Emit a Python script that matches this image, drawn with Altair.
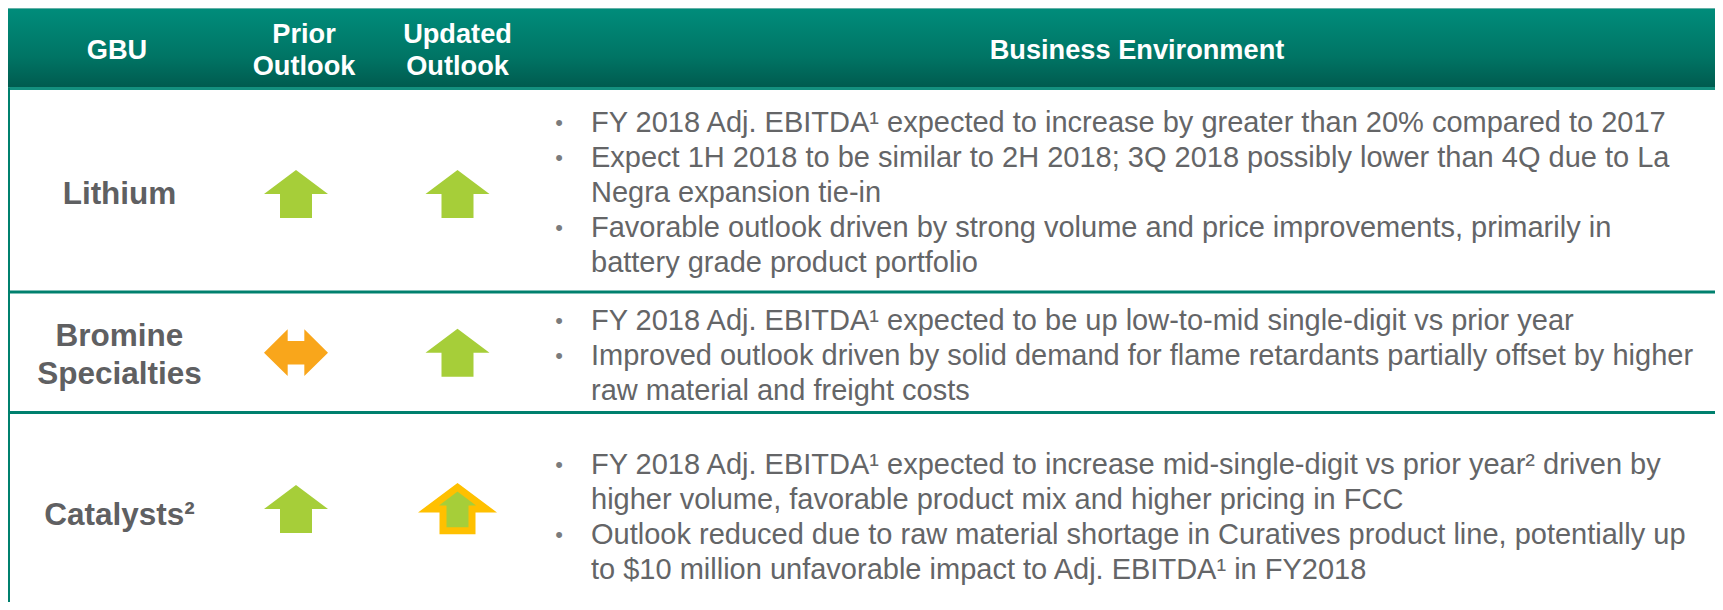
import altair as alt
import pandas as pd

# ---------------- data ----------------
HEADERS = ["GBU", "Prior\nOutlook", "Updated\nOutlook", "Business Environment"]
GBU = ["Lithium", "Bromine\nSpecialties", "Catalysts²"]
PRIOR_OUTLOOK = ["up", "flat", "up"]
UPDATED_OUTLOOK = ["up", "up", "up_reduced"]
BULLETS = [
    [
        ["FY 2018 Adj. EBITDA¹  expected to increase by greater than 20% compared to 2017"],
        ["Expect 1H 2018 to be similar to 2H 2018; 3Q 2018 possibly lower than 4Q due to La",
         "Negra expansion tie-in"],
        ["Favorable outlook driven by strong volume and price improvements, primarily in",
         "battery grade product portfolio"],
    ],
    [
        ["FY 2018 Adj. EBITDA¹ expected to be up low-to-mid single-digit vs prior year"],
        ["Improved outlook driven by solid demand for flame retardants partially offset by higher",
         "raw material and freight costs"],
    ],
    [
        ["FY 2018 Adj. EBITDA¹ expected to increase mid-single-digit vs prior year² driven by",
         "higher volume, favorable product mix and higher pricing in FCC"],
        ["Outlook reduced due to raw material shortage in Curatives product line, potentially up",
         "to $10 million unfavorable impact to Adj. EBITDA¹ in FY2018"],
    ],
]

# ---------------- layout / style ----------------
FONT = "Liberation Sans"
W, H = 1707, 594
OX, OY = 8, 8
X_LEFT, X_RIGHT = 7, 1723
HEAD_TOP, HEAD_BOTTOM = 8, 88
ROW_LINES = [292, 412.5]
ROW_MID = [194, 352.7, 509]
LABEL_MID = [195, 356, 516]
TEXT_MID = [193, 356, 517]
COL_X = [117, 304, 457.5, 1137]
LABEL_X = 119.5
ARROW_X = [296, 457.5]
HEAD_MID = 51
HEAD_LH = 32
LABEL_LH = 38.6
BULLET_X, TEXT_X = 559, 591
LINE_H = 35
BODY_SIZE = 29
HEAD_SIZE = 27.2
LABEL_SIZE = 31.5

TEAL = "#00806E"
GREEN = "#A6CE39"
ORANGE = "#F9A61B"
GOLD = "#FFC000"
TEXT_GRAY = "#646567"
LABEL_GRAY = "#5F6062"

UP_PATH = "M 0 -0.75 L 1 0 L 0.5 0 L 0.5 0.75 L -0.5 0.75 L -0.5 0 L -1 0 Z"
FLAT_PATH = ("M -1 0 L -0.26 -0.73 L -0.26 -0.365 L 0.26 -0.365 L 0.26 -0.73 L 1 0 "
             "L 0.26 0.73 L 0.26 0.365 L -0.26 0.365 L -0.26 0.73 Z")

xs = alt.Scale(domain=[OX, OX + W], zero=False, nice=False)
ys = alt.Scale(domain=[OY, OY + H], zero=False, nice=False, reverse=True)


def X(f):
    return alt.X(f, type="quantitative", scale=xs, axis=None)


def Y(f):
    return alt.Y(f, type="quantitative", scale=ys, axis=None)


def first_line_y(mid, text, lh):
    n = text.count("\n") + 1
    return mid - (n - 1) * lh / 2


# ---------------- table frame ----------------
frame_df = pd.DataFrame({"x": [X_LEFT], "x2": [X_RIGHT], "y": [HEAD_TOP], "y2": [HEAD_BOTTOM]})
header_bg = alt.Chart(frame_df).mark_rect(
    color=alt.Gradient(
        gradient="linear",
        stops=[alt.GradientStop(color="#008D7B", offset=0),
               alt.GradientStop(color="#007565", offset=0.6),
               alt.GradientStop(color="#005A4E", offset=1)],
        x1=0, x2=0, y1=0, y2=1),
).encode(x=X("x"), x2="x2", y=Y("y"), y2="y2")

lines_df = pd.DataFrame({
    "x": [X_LEFT, X_LEFT, X_LEFT, X_LEFT],
    "x2": [X_RIGHT, X_RIGHT, X_RIGHT, X_LEFT + 3],
    "y": [HEAD_BOTTOM - 1, ROW_LINES[0] - 1.5, ROW_LINES[1] - 1.5, HEAD_BOTTOM],
    "y2": [HEAD_BOTTOM + 2, ROW_LINES[0] + 1.5, ROW_LINES[1] + 1.5, OY + H],
    "c": ["#14907F", TEAL, TEAL, TEAL],
})
frame_lines = alt.Chart(lines_df).mark_rect().encode(
    x=X("x"), x2="x2", y=Y("y"), y2="y2",
    color=alt.Color("c:N", scale=None, legend=None),
)
top_edge = alt.Chart(pd.DataFrame({"x": [X_LEFT], "x2": [X_RIGHT], "y": [HEAD_TOP]})).mark_rule(
    color="#C8D6D3", strokeWidth=1
).encode(x=X("x"), x2="x2", y=Y("y"))

# ---------------- header text ----------------
head_df = pd.DataFrame({
    "t": HEADERS, "x": COL_X,
    "y": [first_line_y(HEAD_MID, t, HEAD_LH) for t in HEADERS],
})
head_text = alt.Chart(head_df).mark_text(
    font=FONT, fontSize=HEAD_SIZE, fontWeight="bold", color="white",
    align="center", baseline="middle", lineBreak="\n", lineHeight=HEAD_LH,
).encode(x=X("x"), y=Y("y"), text="t:N")

# ---------------- row labels ----------------
label_df = pd.DataFrame({
    "t": GBU, "x": [LABEL_X] * 3,
    "y": [first_line_y(m, t, LABEL_LH) for m, t in zip(LABEL_MID, GBU)],
})
label_text = alt.Chart(label_df).mark_text(
    font=FONT, fontSize=LABEL_SIZE, fontWeight="bold", color=LABEL_GRAY,
    align="center", baseline="middle", lineBreak="\n", lineHeight=LABEL_LH,
).encode(x=X("x"), y=Y("y"), text="t:N")

# ---------------- arrows ----------------
arrow_rows = []
for i, (p, u) in enumerate(zip(PRIOR_OUTLOOK, UPDATED_OUTLOOK)):
    arrow_rows.append({"gbu": GBU[i], "col": "Prior", "outlook": p, "x": ARROW_X[0], "y": ROW_MID[i]})
    arrow_rows.append({"gbu": GBU[i], "col": "Updated", "outlook": u, "x": ARROW_X[1], "y": ROW_MID[i]})
arrow_df = pd.DataFrame(arrow_rows)

arrow_base = alt.Chart(arrow_df).encode(x=X("x"), y=Y("y"))
up_arrows = arrow_base.transform_filter(alt.datum.outlook == "up").mark_point(
    shape=UP_PATH, filled=True, fill=GREEN, strokeWidth=0, size=64 * 64, opacity=1)
flat_arrows = arrow_base.transform_filter(alt.datum.outlook == "flat").mark_point(
    shape=FLAT_PATH, filled=True, fill=ORANGE, strokeWidth=0, size=64 * 64, opacity=1)
reduced_arrows = arrow_base.transform_filter(alt.datum.outlook == "up_reduced").mark_point(
    shape=UP_PATH, filled=True, fill=GREEN, stroke=GOLD, strokeWidth=7,
    strokeJoin="miter", strokeMiterLimit=10, size=58 * 58, opacity=1)

# ---------------- body text ----------------
body_rows = []
bullet_rows = []
for r, bullets in enumerate(BULLETS):
    n = sum(len(b) for b in bullets)
    k = 0
    for b in bullets:
        for j, line in enumerate(b):
            y = TEXT_MID[r] + (k - (n - 1) / 2) * LINE_H
            body_rows.append({"t": line, "x": TEXT_X, "y": y})
            if j == 0:
                bullet_rows.append({"t": "•", "x": BULLET_X, "y": y})
            k += 1
body_df = pd.DataFrame(body_rows)
bullet_df = pd.DataFrame(bullet_rows)

body_text = alt.Chart(body_df).mark_text(
    font=FONT, fontSize=BODY_SIZE, color=TEXT_GRAY, align="left", baseline="middle",
).encode(x=X("x"), y=Y("y"), text="t:N")
bullet_text = alt.Chart(bullet_df).mark_text(
    font=FONT, fontSize=22, color="#7A7B7D", align="center", baseline="middle",
).encode(x=X("x"), y=Y("y"), text="t:N")

chart = alt.layer(
    header_bg, frame_lines, top_edge, head_text, label_text,
    up_arrows, flat_arrows, reduced_arrows, body_text, bullet_text,
).properties(
    width=W, height=H, padding=0,
    autosize=alt.AutoSizeParams(type="none"),
).configure_view(stroke=None)

chart.save("out.html", embed_options={"renderer": "svg", "actions": False})
